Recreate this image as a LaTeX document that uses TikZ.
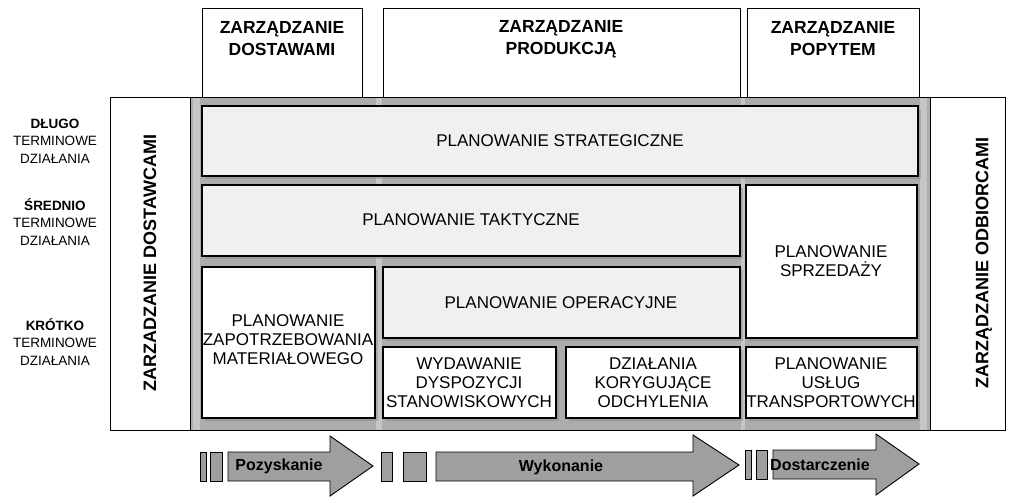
\documentclass[tikz,border=0pt]{standalone}
\usepackage{fontspec}
\setmainfont{Liberation Sans}
\begin{document}
\begin{tikzpicture}[x=1pt,y=-1pt,
 bx/.style={draw=black,line width=1.3pt,align=center,font=\fontsize{17}{19}\selectfont},
 hd/.style={draw=black,line width=0.8pt,fill=white},
 gbar/.style={draw=black,line width=0.9pt,fill=gray!75},
 lbl/.style={align=center,font=\fontsize{13.5}{17.5}\selectfont},
 arrtext/.style={font=\fontsize{16}{18}\selectfont\bfseries}]
\fill[white] (0,0) rectangle (1009,503);
\useasboundingbox (0,0) rectangle (1009,503);
% headers
\draw[hd] (202,8) rectangle (362,97);
\draw[hd] (383,8) rectangle (740,97);
\draw[hd] (747,8) rectangle (919,97);
\node[align=center,font=\fontsize{17.5}{22}\selectfont\bfseries] (h1) at (282,39) {ZARZĄDZANIE\\DOSTAWAMI};
\node[align=center,font=\fontsize{17.5}{22}\selectfont\bfseries] (h2) at (561,39) {ZARZĄDZANIE\\PRODUKCJĄ};
\node[align=center,font=\fontsize{17.5}{22}\selectfont\bfseries] (h3) at (833,39) {ZARZĄDZANIE\\POPYTEM};
% frame
\fill[gray!65] (190,97) rectangle (930,430);
\fill[gray!45] (193,97) rectangle (200,430);
\fill[gray!45] (376,97) rectangle (382,430);
\fill[gray!45] (741,97) rectangle (745,430);
\fill[gray!45] (920,97) rectangle (927,430);
\draw[line width=0.9pt] (110,97) rectangle (1005,430);
\draw[line width=0.9pt] (190,97) -- (190,430) (930,97) -- (930,430);
\node[rotate=90,font=\fontsize{18}{20}\selectfont\bfseries] (ld) at (150,263) {ZARZADZANIE DOSTAWCAMI};
\node[rotate=90,font=\fontsize{18}{20}\selectfont\bfseries] (rd) at (984,263) {ZARZĄDZANIE ODBIORCAMI};
% shadows
\foreach \a/\b/\c/\d in {202/106/918/176, 202/185/740/256, 746/185/917/338, 202/267/375/418, 383/267/740/338, 383/347/556/418, 566/347/740/418, 746/347/917/418}
  \fill[gray!110!black,opacity=0.5] (\a+3,\b+3) rectangle (\c+3,\d+3);
% boxes
\draw[bx,fill=gray!12] (202,106) rectangle (918,176);
\node[bx,draw=none] (s) at (560,141) {PLANOWANIE STRATEGICZNE};
\draw[bx,fill=gray!12] (202,185) rectangle (740,256);
\node[bx,draw=none] (t) at (471,220) {PLANOWANIE TAKTYCZNE};
\draw[bx,fill=white] (746,185) rectangle (917,338);
\node[bx,draw=none] (sp) at (831,261) {PLANOWANIE\\SPRZEDAŻY};
\draw[bx,fill=white] (202,267) rectangle (375,418);
\node[bx,draw=none] (z) at (288,340) {PLANOWANIE\\ZAPOTRZEBOWANIA\\MATERIAŁOWEGO};
\draw[bx,fill=gray!12] (383,267) rectangle (740,338);
\node[bx,draw=none] (o) at (561,303) {PLANOWANIE OPERACYJNE};
\draw[bx,fill=white] (383,347) rectangle (556,418);
\node[bx,draw=none] (w) at (469,383) {WYDAWANIE\\DYSPOZYCJI\\STANOWISKOWYCH};
\draw[bx,fill=white] (566,347) rectangle (740,418);
\node[bx,draw=none] (k) at (653,383) {DZIAŁANIA\\KORYGUJĄCE\\ODCHYLENIA};
\draw[bx,fill=white] (746,347) rectangle (917,418);
\node[bx,draw=none] (u) at (831,383) {PLANOWANIE\\USŁUG\\TRANSPORTOWYCH};
% left labels
\node[lbl] (l1) at (55,141) {\textbf{DŁUGO}\\TERMINOWE\\DZIAŁANIA};
\node[lbl] (l2) at (55,222) {\textbf{ŚREDNIO}\\TERMINOWE\\DZIAŁANIA};
\node[lbl] (l3) at (55,342) {\textbf{KRÓTKO}\\TERMINOWE\\DZIAŁANIA};
% bottom arrows
\draw[gbar] (200,452) rectangle (206,481);
\draw[gbar] (210,452) rectangle (222,481);
\draw[gbar] (228,452) -- (330,452) -- (330,436) -- (373,466) -- (330,496) -- (330,481) -- (228,481) -- cycle;
\node[arrtext] (a1) at (279,466) {Pozyskanie};
\draw[gbar] (381,452) rectangle (392,481);
\draw[gbar] (403,452) rectangle (426,481);
\draw[gbar] (436,452) -- (693,452) -- (693,435) -- (739,465) -- (693,496) -- (693,481) -- (436,481) -- cycle;
\node[arrtext] (a2) at (561,467) {Wykonanie};
\draw[gbar] (745,450) rectangle (751,479);
\draw[gbar] (756,450) rectangle (767,479);
\draw[gbar] (773,450) -- (876,450) -- (876,434) -- (919,464) -- (876,495) -- (876,479) -- (773,479) -- cycle;
\node[arrtext] (a3) at (820,465) {Dostarczenie};
\end{tikzpicture}
\end{document}
